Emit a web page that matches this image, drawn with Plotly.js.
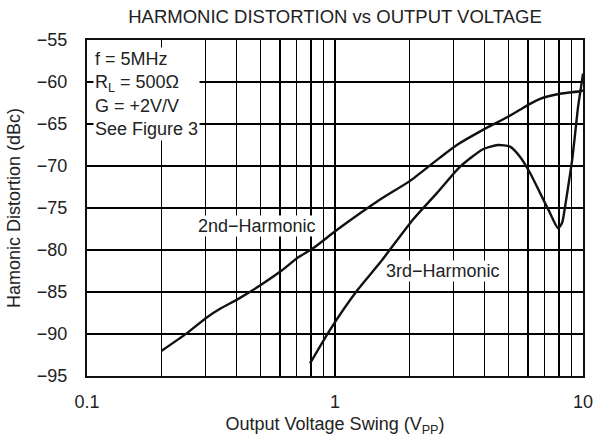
<!DOCTYPE html>
<html>
<head>
<meta charset="utf-8">
<script src="https://cdn.plot.ly/plotly-3.0.1.min.js"></script>
<style>html,body{margin:0;padding:0;background:#fff;}#chart{width:595px;height:443px;}</style>
</head>
<body>
<div id="chart"></div>
<script>
// 2nd harmonic
const h2_x = [0.2, 0.253, 0.305, 0.344, 0.414, 0.5, 0.6, 0.709, 0.815, 1.02, 1.52, 2.0, 2.65, 3.1, 3.95, 4.94, 5.57, 6.11, 6.71, 8.07, 9.72, 10];
const h2_y = [-92.0, -89.9, -88.0, -87.0, -85.7, -84.2, -82.6, -80.9, -79.8, -77.6, -74.0, -71.8, -69.0, -67.5, -65.7, -64.2, -63.3, -62.6, -62.0, -61.4, -61.1, -61.0];
// 3rd harmonic
const h3_x = [0.793, 0.955, 1.23, 1.52, 2.06, 2.58, 3.19, 3.95, 4.54, 5.08, 5.57, 6.11, 6.71, 7.36, 7.93, 8.23, 8.46, 8.71, 9.04, 9.30, 9.55, 9.91, 10];
const h3_y = [-93.5, -89.5, -84.8, -81.5, -76.4, -73.2, -70.1, -68.0, -67.5, -67.7, -68.9, -70.8, -73.2, -75.6, -77.4, -76.8, -74.9, -72.5, -69.3, -66.1, -63.0, -59.8, -59.0];

const xTickVals = [0.1,0.2,0.3,0.4,0.5,0.6,0.7,0.8,0.9,1,2,3,4,5,6,7,8,9,10];
const xTickText = ['0.1','','','','','','','','','1','','','','','','','','','10'];
const yTickVals = [-95,-90,-85,-80,-75,-70,-65,-60,-55];

const notes = ['f = 5MHz','R<sub>L</sub> = 500Ω','G = +2V/V','See Figure 3'];

const font = 'Liberation Sans, Arial, sans-serif';
const txt = '#222';

const traces = [
  {x: h2_x, y: h2_y, mode: 'lines', line: {color: '#111', width: 2.4, shape: 'spline', smoothing: 0.6}, hoverinfo: 'skip'},
  {x: h3_x, y: h3_y, mode: 'lines', line: {color: '#111', width: 2.4, shape: 'spline', smoothing: 0.6}, hoverinfo: 'skip'}
];

const layout = {
  width: 595, height: 443,
  margin: {l: 87, r: 12, t: 40, b: 67},
  paper_bgcolor: '#fff', plot_bgcolor: '#fff',
  showlegend: false,
  font: {family: font, size: 18, color: txt},
  title: {text: 'HARMONIC DISTORTION vs OUTPUT VOLTAGE', font: {size: 18.5, color: txt}, x: 0.563, xanchor: 'center', y: 0.962, yanchor: 'middle'},
  xaxis: {
    type: 'log', range: [-1, 1],
    tickmode: 'array', tickvals: xTickVals, ticktext: xTickText, tickangle: 0,
    showgrid: true, gridcolor: '#000', gridwidth: 1.1,
    showline: true, linecolor: '#111', linewidth: 2, mirror: true,
    ticks: '', ticklabelstandoff: 8, zeroline: false,
    tickfont: {size: 18},
    title: {text: 'Output Voltage Swing (V<sub>PP</sub>)', font: {size: 18}, standoff: 7}
  },
  yaxis: {
    range: [-95, -55],
    tickmode: 'array', tickvals: yTickVals,
    showgrid: true, gridcolor: '#000', gridwidth: 1.1,
    showline: true, linecolor: '#111', linewidth: 2, mirror: true,
    ticks: '', ticklabelstandoff: 14, zeroline: false,
    tickfont: {size: 18},
    title: {text: 'Hamonic Distortion (dBc)', font: {size: 18}, standoff: 12}
  },
  annotations: [
    {xref: 'paper', yref: 'paper', x: 0.012, y: 0.98, xanchor: 'left', yanchor: 'top', align: 'left',
     text: notes.join('<br>'), showarrow: false, bgcolor: '#fff', font: {size: 18, color: txt}, borderpad: 1},
    {xref: 'x', yref: 'y', x: Math.log10(0.484), y: -77.2, text: '2nd−Harmonic', showarrow: false, bgcolor: '#fff', font: {size: 18, color: txt}, borderpad: 0},
    {xref: 'x', yref: 'y', x: Math.log10(2.72), y: -82.5, text: '3rd−Harmonic', showarrow: false, bgcolor: '#fff', font: {size: 18, color: txt}, borderpad: 0}
  ]
};

Plotly.newPlot('chart', traces, layout, {staticPlot: true, displayModeBar: false});
</script>
</body>
</html>
